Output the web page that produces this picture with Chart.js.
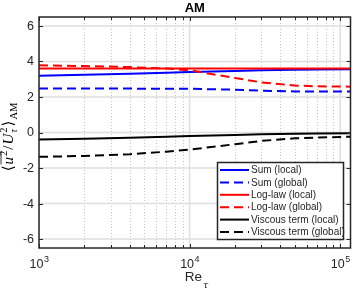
<!DOCTYPE html>
<html>
<head>
<meta charset="utf-8">
<script src="https://cdn.jsdelivr.net/npm/chart.js@4"></script>
<style>
  html, body { margin: 0; padding: 0; background: #fff; }
  #wrap { width: 354px; height: 296px; }
</style>
</head>
<body>
<div id="wrap"><canvas id="chart" width="354" height="296"></canvas></div>
<script>
// data
const reTau = [1000, 2000, 4000, 7000, 10000, 20000, 30000, 50000, 70000, 117000];
const sumLocal = [3.20, 3.25, 3.31, 3.36, 3.40, 3.46, 3.50, 3.53, 3.55, 3.56];
const sumGlobal = [2.47, 2.47, 2.47, 2.46, 2.46, 2.41, 2.35, 2.31, 2.31, 2.31];
const logLocal = [3.60, 3.60, 3.60, 3.60, 3.60, 3.60, 3.60, 3.60, 3.60, 3.60];
const logGlobal = [3.78, 3.74, 3.68, 3.60, 3.50, 3.07, 2.82, 2.64, 2.60, 2.58];
const viscLocal = [-0.40, -0.35, -0.29, -0.24, -0.20, -0.14, -0.10, -0.07, -0.05, -0.04];
const viscGlobal = [-1.37, -1.32, -1.22, -1.08, -0.96, -0.66, -0.47, -0.33, -0.28, -0.24];

const seriesLabels = ['Sum (local)', 'Sum (global)', 'Log-law (local)', 'Log-law (global)',
  'Viscous term (local)', 'Viscous term (global)'];
const yTicks = [-6, -4, -2, 0, 2, 4, 6];
const xMajorTicks = [1e3, 1e4, 1e5];
const xMinorTicks = [2e3, 3e3, 4e3, 5e3, 6e3, 7e3, 8e3, 9e3, 2e4, 3e4, 4e4, 5e4, 6e4, 7e4, 8e4, 9e4];
const xTickLabels = ['3', '4', '5']; // exponents for 10^n

const AXIS_COLOR = '#262626';
const DASH = [9, 5];

function pts(ys) {
  return ys.map((y, i) => ({ x: reTau[i], y: y }));
}

const styles = [
  { color: '#0000ff', dash: [] },
  { color: '#0000ff', dash: DASH },
  { color: '#ff0000', dash: [] },
  { color: '#ff0000', dash: DASH },
  { color: '#000000', dash: [] },
  { color: '#000000', dash: DASH }
];
const seriesData = [sumLocal, sumGlobal, logLocal, logGlobal, viscLocal, viscGlobal];

const datasets = seriesData.map((ys, i) => ({
  label: seriesLabels[i],
  data: pts(ys),
  borderColor: styles[i].color,
  backgroundColor: styles[i].color,
  borderDash: styles[i].dash,
  borderWidth: 2,
  pointRadius: 0,
  tension: 0,
  fill: false,
  order: 10 - i // later series on top, like matlab
}));

/**
 * draws grid, box, ticks, labels, title and legend around the plot area.
 */
const decorPlugin = {
  id: 'decor',
  beforeDatasetsDraw(chart) {
    const { ctx, chartArea: a, scales } = chart;
    const xs = scales.x, ys = scales.y;
    ctx.save();
    ctx.beginPath();
    ctx.rect(a.left, a.top, a.right - a.left, a.bottom - a.top);
    ctx.clip();

    // minor dotted grid
    ctx.strokeStyle = '#c4c4c4';
    ctx.lineWidth = 1;
    ctx.setLineDash([1, 2]);
    xMinorTicks.forEach(v => {
      const px = Math.round(xs.getPixelForValue(v)) + 0.5;
      ctx.beginPath();
      ctx.moveTo(px, a.top);
      ctx.lineTo(px, a.bottom);
      ctx.stroke();
    });

    // major grid
    ctx.setLineDash([]);
    ctx.strokeStyle = '#dedede';
    ctx.lineWidth = 1.5;
    xMajorTicks.forEach(v => {
      const px = xs.getPixelForValue(v);
      ctx.beginPath();
      ctx.moveTo(px, a.top);
      ctx.lineTo(px, a.bottom);
      ctx.stroke();
    });
    yTicks.forEach(v => {
      const py = ys.getPixelForValue(v);
      ctx.beginPath();
      ctx.moveTo(a.left, py);
      ctx.lineTo(a.right, py);
      ctx.stroke();
    });
    ctx.restore();
  },
  afterDatasetsDraw(chart) {
    const { ctx, chartArea: a, scales } = chart;
    const xs = scales.x, ys = scales.y;
    ctx.save();

    // box
    ctx.strokeStyle = AXIS_COLOR;
    ctx.lineWidth = 1.5;
    ctx.setLineDash([]);
    ctx.strokeRect(a.left, a.top, a.right - a.left, a.bottom - a.top);

    // ticks (inward, all four sides)
    ctx.lineWidth = 1;
    const tick = (x1, y1, x2, y2) => {
      ctx.beginPath();
      ctx.moveTo(x1, y1);
      ctx.lineTo(x2, y2);
      ctx.stroke();
    };
    xMajorTicks.concat(xMinorTicks).forEach(v => {
      const px = Math.round(xs.getPixelForValue(v)) + 0.5;
      if (px < a.left || px > a.right) return;
      const len = xMajorTicks.includes(v) ? 4 : 3;
      tick(px, a.bottom, px, a.bottom - len);
      tick(px, a.top, px, a.top + len);
    });
    yTicks.forEach(v => {
      const py = Math.round(ys.getPixelForValue(v)) + 0.5;
      tick(a.left, py, a.left + 4, py);
      tick(a.right, py, a.right - 4, py);
    });

    // y tick labels
    ctx.fillStyle = AXIS_COLOR;
    ctx.font = '12.5px "Liberation Sans", Arial, sans-serif';
    ctx.textAlign = 'right';
    ctx.textBaseline = 'middle';
    yTicks.forEach(v => {
      ctx.fillText(String(v), a.left - 5, ys.getPixelForValue(v) + 0.5);
    });

    // x tick labels: 10^n
    ctx.textBaseline = 'alphabetic';
    ctx.textAlign = 'left';
    xMajorTicks.forEach((v, i) => {
      const px = xs.getPixelForValue(v);
      ctx.font = '12.5px "Liberation Sans", Arial, sans-serif';
      const wBase = ctx.measureText('10').width;
      ctx.font = '9px "Liberation Sans", Arial, sans-serif';
      const wExp = ctx.measureText(xTickLabels[i]).width;
      const x0 = px - (wBase + wExp) / 2;
      ctx.font = '12.5px "Liberation Sans", Arial, sans-serif';
      ctx.fillText('10', x0, 268);
      ctx.font = '9px "Liberation Sans", Arial, sans-serif';
      ctx.fillText(xTickLabels[i], x0 + wBase + 0.5, 262);
    });

    // x axis label Re_tau
    const cx = (a.left + a.right) / 2;
    ctx.font = '13.5px "Liberation Sans", Arial, sans-serif';
    const wRe = ctx.measureText('Re').width;
    ctx.fillText('Re', cx - 10, 281);
    ctx.font = 'italic 9.5px "DejaVu Serif", "Liberation Serif", serif';
    ctx.fillText('τ', cx - 10 + wRe + 1, 288);

    // y axis label, rotated
    drawYLabel(ctx, 13, (a.top + a.bottom) / 2 + 4);

    // title
    ctx.font = 'bold 13px "Liberation Sans", Arial, sans-serif';
    ctx.textAlign = 'center';
    ctx.fillStyle = '#000';
    ctx.fillText('AM', cx, 12);

    // legend
    drawLegend(ctx, chart);
    ctx.restore();
  }
};

function drawYLabel(ctx, x, y) {
  const big = '15px "Liberation Serif", "DejaVu Serif", serif';
  const bigIt = 'italic 15px "Liberation Serif", "DejaVu Serif", serif';
  const small = '10.5px "Liberation Serif", "DejaVu Serif", serif';
  const smallIt = 'italic 10.5px "Liberation Serif", "DejaVu Serif", serif';
  const bracket = '15px "DejaVu Serif", serif';
  // pieces: text, font, dy, stacked sub
  const pieces = [
    { t: '\u27E8', f: bracket, dy: 0 },
    { t: 'u', f: bigIt, dy: 0, over: true },
    { t: '2', f: small, dy: -6, over: true },
    { t: '/', f: big, dy: 0 },
    { t: 'U', f: bigIt, dy: 0 },
    { t: '2', f: small, dy: -6, sub: { t: 'τ', f: smallIt, dy: 3.5 } },
    { t: '\u27E9', f: bracket, dy: 0 },
    { t: 'AM', f: small, dy: 3.5 }
  ];
  let total = 0;
  pieces.forEach(p => {
    ctx.font = p.f;
    p.w = ctx.measureText(p.t).width;
    if (p.sub) {
      ctx.font = p.sub.f;
      p.w = Math.max(p.w, ctx.measureText(p.sub.t).width);
    }
    total += p.w + 1;
  });
  ctx.save();
  ctx.translate(x, y);
  ctx.rotate(-Math.PI / 2);
  ctx.fillStyle = '#000';
  ctx.textAlign = 'left';
  ctx.textBaseline = 'alphabetic';
  let cur = -total / 2;
  let overStart = null, overEnd = null;
  pieces.forEach(p => {
    ctx.font = p.f;
    ctx.fillText(p.t, cur, p.dy);
    if (p.sub) {
      ctx.font = p.sub.f;
      ctx.fillText(p.sub.t, cur, p.sub.dy);
    }
    if (p.over) {
      if (overStart === null) overStart = cur;
      overEnd = cur + p.w;
    }
    cur += p.w + 1;
  });
  ctx.strokeStyle = '#000';
  ctx.lineWidth = 0.8;
  ctx.beginPath();
  ctx.moveTo(overStart, -12);
  ctx.lineTo(overEnd, -12);
  ctx.stroke();
  ctx.restore();
}

function drawLegend(ctx, chart) {
  const box = { x: 217.5, y: 162.5, w: 126, h: 77 };
  ctx.fillStyle = '#fff';
  ctx.fillRect(box.x, box.y, box.w, box.h);
  ctx.strokeStyle = AXIS_COLOR;
  ctx.lineWidth = 1.5;
  ctx.setLineDash([]);
  ctx.strokeRect(box.x, box.y, box.w, box.h);
  ctx.font = '10px "Liberation Sans", Arial, sans-serif';
  ctx.textAlign = 'left';
  ctx.textBaseline = 'middle';
  chart.data.datasets.forEach((ds, i) => {
    const ry = 170 + i * 12.4;
    ctx.strokeStyle = ds.borderColor;
    ctx.lineWidth = 2;
    ctx.setLineDash(ds.borderDash);
    ctx.beginPath();
    ctx.moveTo(220, ry);
    ctx.lineTo(249, ry);
    ctx.stroke();
    ctx.setLineDash([]);
    ctx.fillStyle = AXIS_COLOR;
    ctx.fillText(ds.label, 251, ry + 0.5);
  });
}

new Chart(document.getElementById('chart'), {
  type: 'line',
  data: { datasets: datasets },
  options: {
    responsive: false,
    animation: false,
    layout: { padding: { left: 39, top: 17, right: 3.5, bottom: 48 } },
    scales: {
      x: { type: 'logarithmic', display: false, min: 1000, max: 117000 },
      y: { type: 'linear', display: false, min: -6.5, max: 6.5 }
    },
    plugins: {
      legend: { display: false },
      tooltip: { enabled: false },
      title: { display: false }
    }
  },
  plugins: [decorPlugin]
});
</script>
</body>
</html>
